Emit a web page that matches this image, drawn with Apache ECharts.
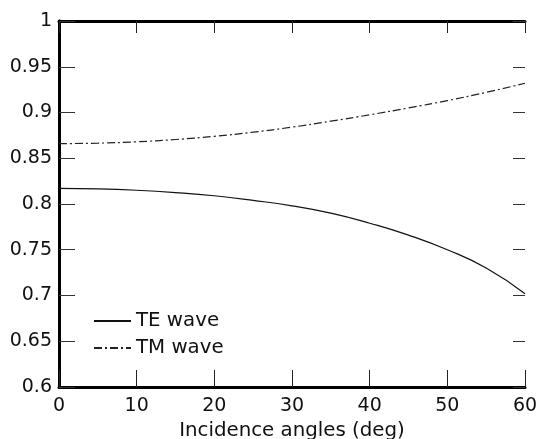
<!DOCTYPE html>
<html>
<head>
<meta charset="utf-8">
<script src="https://cdn.jsdelivr.net/npm/echarts@6/dist/echarts.min.js"></script>
<style>
  html, body { margin: 0; padding: 0; background: #fff; }
  #chart { width: 536px; height: 439px; }
</style>
</head>
<body>
<div id="chart"></div>
<script>
// values
const angles = [0, 5, 10, 15, 20, 25, 30, 35, 40, 45, 50, 55, 60];
const teWave = [0.817, 0.8165, 0.815, 0.8125, 0.809, 0.804, 0.798, 0.790, 0.779, 0.766, 0.750, 0.730, 0.702];
const tmWave = [0.866, 0.8665, 0.868, 0.8705, 0.874, 0.8785, 0.884, 0.8905, 0.8975, 0.905, 0.913, 0.922, 0.932];

const font = "'DejaVu Sans', sans-serif";

const chart = echarts.init(document.getElementById("chart"));

const pairs = arr => angles.map((a, i) => [a, arr[i]]);

chart.setOption({
  animation: false,
  grid: [
    { left: 59, right: 11, top: 21, bottom: 52, outerBoundsMode: "none", containLabel: false },
    // thin strip along the right border, only used for the mirrored y ticks
    { left: 513, right: 11, top: 21, bottom: 52, outerBoundsMode: "none", containLabel: false }
  ],
  legend: {
    left: 93,
    top: 311,
    padding: 0,
    orient: "vertical",
    itemWidth: 37,
    itemHeight: 14,
    itemGap: 7,
    itemStyle: { opacity: 0 },
    textStyle: { fontFamily: font, fontSize: 19.8, color: "#111" },
    data: ["TE wave", "TM wave"]
  },
  xAxis: [
    {
      type: "value",
      min: 0,
      max: 60,
      interval: 10,
      name: "Incidence angles (deg)",
      nameLocation: "middle",
      nameGap: 31,
      nameTextStyle: { fontFamily: font, fontSize: 19.8, color: "#111" },
      axisLine: { show: true, lineStyle: { color: "#000", width: 3 } },
      axisTick: { show: true, inside: true, length: 17, lineStyle: { color: "#222", width: 1 } },
      axisLabel: { fontFamily: font, fontSize: 19, color: "#111", margin: 10 },
      splitLine: { show: false }
    },
    {
      type: "value",
      position: "top",
      min: 0,
      max: 60,
      interval: 10,
      axisLine: { show: true, lineStyle: { color: "#000", width: 3 } },
      axisTick: { show: true, inside: true, length: 12, lineStyle: { color: "#222", width: 1 } },
      axisLabel: { show: false },
      splitLine: { show: false }
    },
    {
      type: "value",
      gridIndex: 1,
      show: false
    }
  ],
  yAxis: [
    {
      type: "value",
      min: 0.6,
      max: 1,
      interval: 0.05,
      axisLine: { show: true, lineStyle: { color: "#000", width: 3 } },
      axisTick: { show: true, inside: true, length: 16, lineStyle: { color: "#333", width: 1 } },
      axisLabel: {
        fontFamily: font, fontSize: 19, color: "#111", margin: 7,
        formatter: v => String(+v.toFixed(2))
      },
      splitLine: { show: false }
    },
    {
      type: "value",
      position: "right",
      min: 0.6,
      max: 1,
      interval: 0.05,
      axisLine: { show: true, lineStyle: { color: "#000", width: 3 } },
      axisTick: { show: false },
      axisLabel: { show: false },
      splitLine: { show: false }
    },
    {
      type: "value",
      gridIndex: 1,
      position: "left",
      min: 0.6,
      max: 1,
      interval: 0.05,
      axisLine: { show: false },
      axisTick: { show: true, inside: true, length: 12, lineStyle: { color: "#333", width: 1 } },
      axisLabel: { show: false },
      splitLine: { show: false }
    }
  ],
  series: [
    {
      name: "TE wave",
      type: "line",
      smooth: true,
      symbol: "none",
      data: pairs(teWave),
      lineStyle: { color: "#111", width: 1.2 },
      itemStyle: { color: "#111" }
    },
    {
      name: "TM wave",
      type: "line",
      smooth: true,
      symbol: "none",
      data: pairs(tmWave),
      lineStyle: { color: "#222", width: 1.2, type: [8, 3, 2, 3] },
      itemStyle: { color: "#222" }
    }
  ]
});
</script>
</body>
</html>
